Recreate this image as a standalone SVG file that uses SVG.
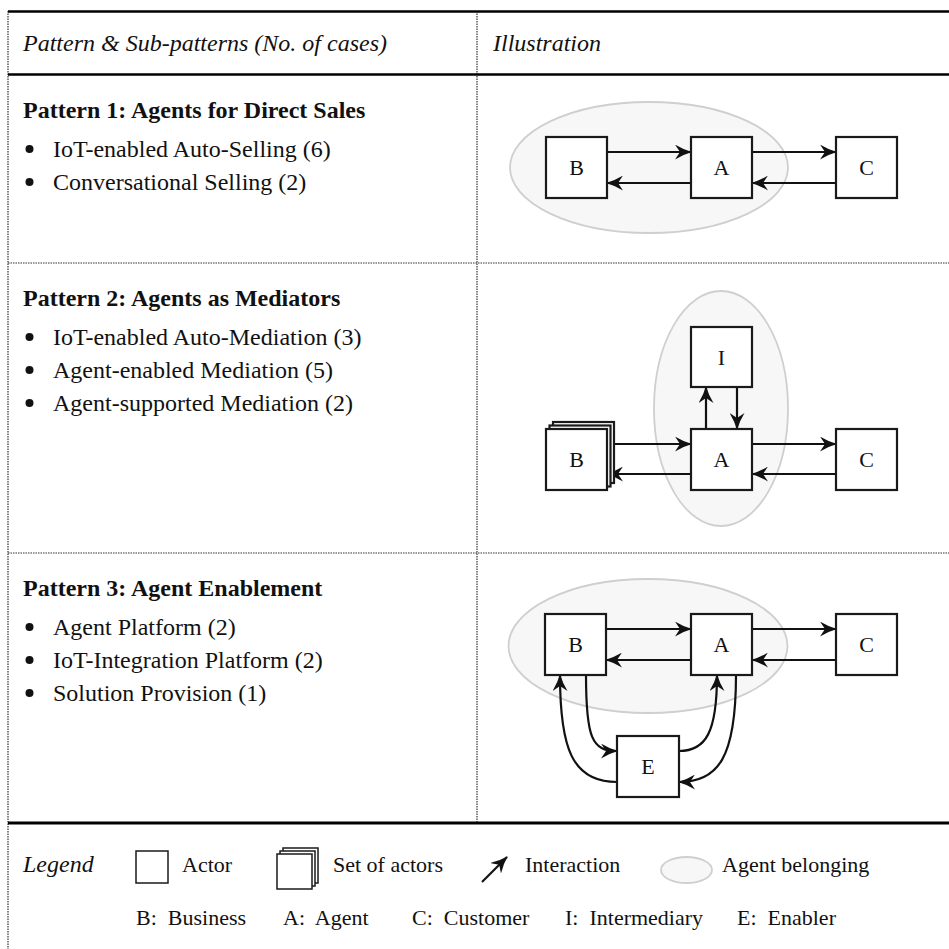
<svg xmlns="http://www.w3.org/2000/svg" width="949" height="949" viewBox="0 0 949 949">
<defs>
<style>
.t{font-family:"Liberation Serif","Times New Roman",serif;font-size:24px;fill:#111}
.it{font-style:italic}
.bd{font-weight:bold}
.lg{font-size:22px}
.lbl{font-family:"Liberation Serif","Times New Roman",serif;font-size:22px;fill:#111;text-anchor:middle}
.box{fill:#fff;stroke:#1a1a1a;stroke-width:2.2}
.ell{fill:#f7f7f7;stroke:#cfcfcf;stroke-width:1.8}
.solid{stroke:#000;stroke-width:2.5;fill:none}
.dot{stroke:#333;stroke-width:1.2;stroke-dasharray:1.5 1;fill:none}
.arr{stroke:#111;stroke-width:2.2;fill:none;marker-end:url(#ah)}
.bul{fill:#111}
</style>
<marker id="ah" viewBox="0 0 17 15" markerWidth="17" markerHeight="15" refX="16" refY="7.5" orient="auto" markerUnits="userSpaceOnUse">
<path d="M0,0 Q8,5 17,7.5 Q8,10 0,15 L5,7.5 Z" fill="#111"/>
</marker>
</defs>
<rect width="949" height="949" fill="#fff"/>

<g id="table">
<line class="dot" x1="8" y1="11" x2="8" y2="949"/>
<line class="dot" x1="477" y1="11" x2="477" y2="823"/>
<line class="dot" x1="8" y1="263" x2="949" y2="263"/>
<line class="dot" x1="8" y1="553" x2="949" y2="553"/>
<line class="solid" x1="8" y1="11.5" x2="949" y2="11.5"/>
<line class="solid" x1="8" y1="74.5" x2="949" y2="74.5"/>
<line class="solid" x1="8" y1="823" x2="949" y2="823" style="stroke-width:3"/>
<text class="t it" x="23" y="51">Pattern &amp; Sub-patterns (No. of cases)</text>
<text class="t it" x="493" y="51">Illustration</text>
</g>

<g id="pattern1-text">
<text class="t bd" x="23" y="118">Pattern 1: Agents for Direct Sales</text>
<circle class="bul" cx="29.5" cy="149" r="4"/>
<text class="t" x="53" y="157">IoT-enabled Auto-Selling (6)</text>
<circle class="bul" cx="29.5" cy="182" r="4"/>
<text class="t" x="53" y="190">Conversational Selling (2)</text>
</g>

<g id="pattern2-text">
<text class="t bd" x="23" y="306">Pattern 2: Agents as Mediators</text>
<circle class="bul" cx="29.5" cy="337" r="4"/>
<text class="t" x="53" y="345">IoT-enabled Auto-Mediation (3)</text>
<circle class="bul" cx="29.5" cy="370" r="4"/>
<text class="t" x="53" y="378">Agent-enabled Mediation (5)</text>
<circle class="bul" cx="29.5" cy="403" r="4"/>
<text class="t" x="53" y="411">Agent-supported Mediation (2)</text>
</g>

<g id="pattern3-text">
<text class="t bd" x="23" y="596">Pattern 3: Agent Enablement</text>
<circle class="bul" cx="29.5" cy="627" r="4"/>
<text class="t" x="53" y="635">Agent Platform (2)</text>
<circle class="bul" cx="29.5" cy="660" r="4"/>
<text class="t" x="53" y="668">IoT-Integration Platform (2)</text>
<circle class="bul" cx="29.5" cy="693" r="4"/>
<text class="t" x="53" y="701">Solution Provision (1)</text>
</g>

<!-- Pattern 1 illustration -->
<ellipse id="p1-belonging" class="ell" cx="649" cy="167.5" rx="139" ry="65.5"/>
<g id="p1-connectors">
<line class="arr" x1="607" y1="152" x2="691" y2="152"/>
<line class="arr" x1="691" y1="183" x2="607" y2="183"/>
<line class="arr" x1="752" y1="152" x2="836" y2="152"/>
<line class="arr" x1="836" y1="183" x2="752" y2="183"/>
</g>
<g id="p1-B"><rect class="box" x="546" y="137" width="61" height="61"/><text class="lbl" x="576.5" y="175">B</text></g>
<g id="p1-A"><rect class="box" x="691" y="137" width="61" height="61"/><text class="lbl" x="721.5" y="175">A</text></g>
<g id="p1-C"><rect class="box" x="836" y="137" width="61" height="61"/><text class="lbl" x="866.5" y="175">C</text></g>

<!-- Pattern 2 illustration -->
<ellipse id="p2-belonging" class="ell" cx="721" cy="408.5" rx="67" ry="117.5"/>
<g id="p2-connectors">
<line class="arr" x1="706" y1="429" x2="706" y2="387"/>
<line class="arr" x1="737" y1="387" x2="737" y2="429"/>
<line class="arr" x1="607" y1="444" x2="691" y2="444"/>
<line class="arr" x1="691" y1="474" x2="607" y2="474"/>
<line class="arr" x1="752" y1="444" x2="836" y2="444"/>
<line class="arr" x1="836" y1="474" x2="752" y2="474"/>
</g>
<g id="p2-I"><rect class="box" x="691" y="327" width="61" height="60"/><text class="lbl" x="721.5" y="365">I</text></g>
<g id="p2-A"><rect class="box" x="691" y="429" width="61" height="61"/><text class="lbl" x="721.5" y="467">A</text></g>
<g id="p2-C"><rect class="box" x="836" y="429" width="61" height="61"/><text class="lbl" x="866.5" y="467">C</text></g>
<g id="p2-B">
<rect class="box" x="553" y="422" width="61" height="61"/>
<rect class="box" x="549.5" y="425.5" width="61" height="61"/>
<rect class="box" x="546" y="429" width="61" height="61"/>
<text class="lbl" x="576.5" y="467">B</text>
</g>

<!-- Pattern 3 illustration -->
<ellipse id="p3-belonging" class="ell" cx="648" cy="646" rx="139.5" ry="67"/>
<g id="p3-connectors">
<line class="arr" x1="606" y1="629" x2="691" y2="629"/>
<line class="arr" x1="691" y1="660" x2="606" y2="660"/>
<line class="arr" x1="752" y1="629" x2="836" y2="629"/>
<line class="arr" x1="836" y1="660" x2="752" y2="660"/>
<path class="arr" d="M586,675 C586,738 592,751 617,751"/>
<path class="arr" d="M617,782 C572,782 560,748 560,675"/>
<path class="arr" d="M679,751 C706,751 717,732 717,675"/>
<path class="arr" d="M736,675 C736,758 718,782 679,782"/>
</g>
<g id="p3-B"><rect class="box" x="545" y="614" width="61" height="61"/><text class="lbl" x="575.5" y="652">B</text></g>
<g id="p3-A"><rect class="box" x="691" y="614" width="61" height="61"/><text class="lbl" x="721.5" y="652">A</text></g>
<g id="p3-C"><rect class="box" x="836" y="614" width="61" height="61"/><text class="lbl" x="866.5" y="652">C</text></g>
<g id="p3-E"><rect class="box" x="617" y="736" width="62" height="61"/><text class="lbl" x="648" y="774">E</text></g>

<!-- Legend -->
<g id="legend">
<text class="t it" x="23" y="872">Legend</text>
<rect class="box" x="136" y="851" width="32" height="32" style="stroke-width:1.5"/>
<text class="t lg" x="182" y="872">Actor</text>
<rect class="box" x="283" y="848" width="35" height="35" style="stroke-width:1.5"/>
<rect class="box" x="280" y="851" width="35" height="35" style="stroke-width:1.5"/>
<rect class="box" x="277" y="854" width="35" height="35" style="stroke-width:1.5"/>
<text class="t lg" x="333" y="872">Set of actors</text>
<line class="arr" x1="482" y1="882" x2="507" y2="857"/>
<text class="t lg" x="525" y="872">Interaction</text>
<ellipse class="ell" cx="686.5" cy="870" rx="25.5" ry="13"/>
<text class="t lg" x="722" y="872">Agent belonging</text>
<text class="t lg" x="136" y="925">B:&#160; Business</text>
<text class="t lg" x="283" y="925">A:&#160; Agent</text>
<text class="t lg" x="412" y="925">C:&#160; Customer</text>
<text class="t lg" x="565" y="925">I:&#160; Intermediary</text>
<text class="t lg" x="737" y="925">E:&#160; Enabler</text>
</g>
</svg>
